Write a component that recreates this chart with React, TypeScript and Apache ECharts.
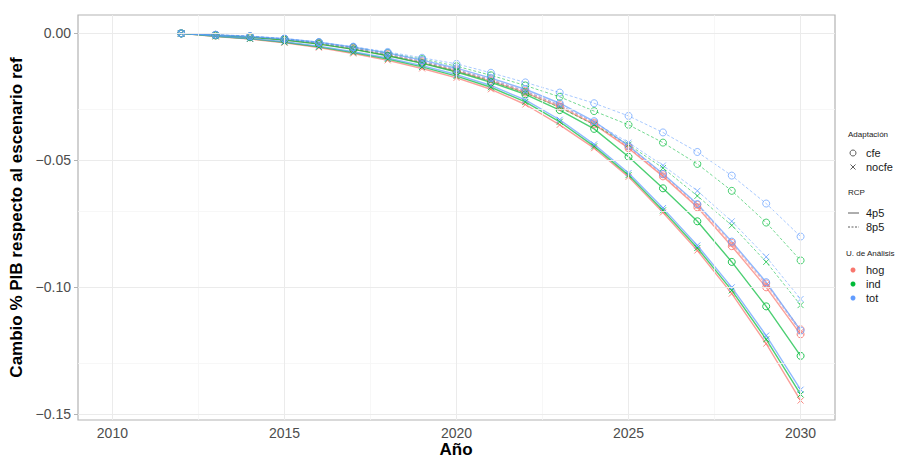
import React, { useEffect, useRef } from "react";
import * as echarts from "echarts";

const years = [2012, 2013, 2014, 2015, 2016, 2017, 2018, 2019, 2020, 2021, 2022, 2023, 2024, 2025, 2026, 2027, 2028, 2029, 2030];

// Adaptación: cfe / nocfe ; RCP: 4p5 / 8p5 ; U. de Análisis: hog / ind / tot
const cfe_4p5_hog = [0, -0.0008, -0.0015, -0.0026, -0.0041, -0.0062, -0.0087, -0.0116, -0.0149, -0.0188, -0.0233, -0.0289, -0.0358, -0.0452, -0.0563, -0.0685, -0.0838, -0.1, -0.1185];
const cfe_4p5_ind = [0, -0.0008, -0.0015, -0.0026, -0.0042, -0.0063, -0.0088, -0.0118, -0.0152, -0.0193, -0.024, -0.0302, -0.0376, -0.0486, -0.061, -0.074, -0.09, -0.1075, -0.127];
const cfe_4p5_tot = [0, -0.0006, -0.0012, -0.0021, -0.0035, -0.0054, -0.0077, -0.0105, -0.0137, -0.0176, -0.022, -0.0275, -0.0346, -0.0443, -0.0553, -0.0672, -0.082, -0.098, -0.117];
const cfe_8p5_hog = [0, -0.0006, -0.0012, -0.0022, -0.0037, -0.0057, -0.0081, -0.011, -0.0142, -0.0181, -0.0226, -0.0282, -0.0352, -0.0445, -0.0555, -0.0675, -0.0825, -0.0985, -0.1165];
const cfe_8p5_ind = [0, -0.0006, -0.0012, -0.0022, -0.0036, -0.0055, -0.0077, -0.0101, -0.0129, -0.0165, -0.0205, -0.025, -0.0306, -0.036, -0.043, -0.0514, -0.062, -0.0745, -0.0894];
const cfe_8p5_tot = [0, -0.0005, -0.001, -0.002, -0.0034, -0.0052, -0.0073, -0.0096, -0.012, -0.0155, -0.0193, -0.0233, -0.0275, -0.0325, -0.039, -0.0467, -0.056, -0.067, -0.08];
const nocfe_4p5_hog = [0, -0.0012, -0.0022, -0.0037, -0.0056, -0.0079, -0.0106, -0.0138, -0.0175, -0.022, -0.028, -0.036, -0.0452, -0.0565, -0.0705, -0.0855, -0.1025, -0.1222, -0.1446];
const nocfe_4p5_ind = [0, -0.0011, -0.0021, -0.0035, -0.0053, -0.0075, -0.0101, -0.0132, -0.0168, -0.0212, -0.027, -0.0348, -0.0445, -0.0558, -0.0697, -0.0845, -0.1012, -0.1205, -0.1422];
const nocfe_4p5_tot = [0, -0.001, -0.002, -0.0033, -0.005, -0.0072, -0.0097, -0.0127, -0.0162, -0.0205, -0.0262, -0.034, -0.0437, -0.055, -0.0688, -0.0835, -0.1, -0.119, -0.1403];
const nocfe_8p5_hog = [0, -0.0007, -0.0013, -0.0023, -0.0038, -0.0058, -0.0083, -0.0112, -0.0145, -0.0184, -0.023, -0.0286, -0.0356, -0.045, -0.056, -0.068, -0.083, -0.099, -0.1175];
const nocfe_8p5_ind = [0, -0.0007, -0.0014, -0.0024, -0.004, -0.0061, -0.0086, -0.0115, -0.0148, -0.0188, -0.0235, -0.0292, -0.036, -0.0438, -0.053, -0.064, -0.0756, -0.09, -0.107];
const nocfe_8p5_tot = [0, -0.0006, -0.0013, -0.0023, -0.0038, -0.0058, -0.0082, -0.011, -0.0143, -0.0183, -0.0228, -0.0283, -0.035, -0.043, -0.052, -0.062, -0.074, -0.088, -0.1046];

const xTicks = [2010, 2015, 2020, 2025, 2030];
const xMinor = [2012.5, 2017.5, 2022.5, 2027.5];
const yTicks = [0, -0.05, -0.1, -0.15];
const yMinor = [-0.025, -0.075, -0.125];

const unitColors: Record<string, string> = { hog: "#F8766D", ind: "#00BA38", tot: "#619CFF" };
const XMARK = "path://M0,0L10,10M10,0L0,10";

const seriesDefs = [
  { adapt: "cfe", rcp: "4p5", unit: "hog", values: cfe_4p5_hog },
  { adapt: "cfe", rcp: "8p5", unit: "hog", values: cfe_8p5_hog },
  { adapt: "nocfe", rcp: "4p5", unit: "hog", values: nocfe_4p5_hog },
  { adapt: "nocfe", rcp: "8p5", unit: "hog", values: nocfe_8p5_hog },
  { adapt: "cfe", rcp: "4p5", unit: "ind", values: cfe_4p5_ind },
  { adapt: "cfe", rcp: "8p5", unit: "ind", values: cfe_8p5_ind },
  { adapt: "nocfe", rcp: "4p5", unit: "ind", values: nocfe_4p5_ind },
  { adapt: "nocfe", rcp: "8p5", unit: "ind", values: nocfe_8p5_ind },
  { adapt: "cfe", rcp: "4p5", unit: "tot", values: cfe_4p5_tot },
  { adapt: "cfe", rcp: "8p5", unit: "tot", values: cfe_8p5_tot },
  { adapt: "nocfe", rcp: "4p5", unit: "tot", values: nocfe_4p5_tot },
  { adapt: "nocfe", rcp: "8p5", unit: "tot", values: nocfe_8p5_tot },
];

const FONT = "Liberation Sans, Arial, sans-serif";

export default function App() {
  const ref = useRef<HTMLDivElement>(null);
  useEffect(() => {
    document.body.style.margin = "0";
    if (!ref.current) return;
    const chart = echarts.init(ref.current, undefined, { renderer: "svg" });

    const gridLine = (vals: number[], axis: "xAxis" | "yAxis", color: string, width: number) =>
      vals.map((v) => ({ [axis]: v, lineStyle: { color, width, type: "solid" } }));

    const series: any[] = [
      {
        type: "line",
        data: [[2012, 0]],
        symbol: "none",
        lineStyle: { width: 0 },
        z: 0,
        silent: true,
        markLine: {
          silent: true,
          symbol: "none",
          label: { show: false },
          animation: false,
          data: [
            ...gridLine(xMinor, "xAxis", "#f5f5f5", 0.8),
            ...gridLine(yMinor, "yAxis", "#f5f5f5", 0.8),
            ...gridLine(xTicks, "xAxis", "#ebebeb", 1),
            ...gridLine(yTicks, "yAxis", "#ebebeb", 1),
          ],
        },
      },
    ];
    seriesDefs.forEach((d) => {
      const c = unitColors[d.unit];
      const solid = d.rcp === "4p5";
      series.push({
        type: "line",
        name: `${d.adapt} ${d.rcp} ${d.unit}`,
        data: years.map((y, i) => [y, d.values[i]]),
        symbol: d.adapt === "cfe" ? "circle" : XMARK,
        symbolSize: d.adapt === "cfe" ? 7 : 6,
        showAllSymbol: true,
        z: 2,
        lineStyle: {
          color: c,
          width: solid ? 1.4 : 1,
          type: solid ? "solid" : [3, 2],
          opacity: solid ? 0.7 : 0.55,
        },
        itemStyle: {
          color: "rgba(255,255,255,0)",
          borderColor: c,
          borderWidth: 1,
          opacity: solid ? 0.85 : 0.7,
        },
        emphasis: { disabled: true },
      });
    });

    const legendText = (x: number, y: number, text: string, size: number) => ({
      type: "text",
      x,
      y,
      style: { text, fontSize: size, fontFamily: FONT, fill: "#1a1a1a", verticalAlign: "middle", align: "left" },
    });

    const graphic: any[] = [
      {
        type: "text",
        x: 456,
        y: 449,
        style: {
          text: "Año",
          fontSize: 17,
          fontWeight: "bold",
          fontFamily: FONT,
          fill: "#000",
          align: "center",
          verticalAlign: "middle",
        },
      },
      legendText(848, 134, "Adaptación", 8),
      { type: "circle", shape: { cx: 853, cy: 153, r: 3 }, style: { fill: "none", stroke: "#333", lineWidth: 0.8 } },
      legendText(866, 153, "cfe", 11),
      { type: "line", shape: { x1: 850.5, y1: 164.5, x2: 855.5, y2: 169.5 }, style: { stroke: "#333", lineWidth: 0.8 } },
      { type: "line", shape: { x1: 855.5, y1: 164.5, x2: 850.5, y2: 169.5 }, style: { stroke: "#333", lineWidth: 0.8 } },
      legendText(866, 167, "nocfe", 11),
      legendText(848, 192, "RCP", 8),
      { type: "line", shape: { x1: 848, y1: 213, x2: 859, y2: 213 }, style: { stroke: "#333", lineWidth: 0.8 } },
      legendText(866, 213, "4p5", 11),
      { type: "line", shape: { x1: 848, y1: 227, x2: 859, y2: 227 }, style: { stroke: "#333", lineWidth: 0.8, lineDash: [2, 1.5] } },
      legendText(866, 227, "8p5", 11),
      legendText(846, 253, "U. de Análisis", 8),
      { type: "circle", shape: { cx: 853, cy: 270, r: 2.5 }, style: { fill: unitColors.hog } },
      legendText(866, 270, "hog", 11),
      { type: "circle", shape: { cx: 853, cy: 284, r: 2.5 }, style: { fill: unitColors.ind } },
      legendText(866, 284, "ind", 11),
      { type: "circle", shape: { cx: 853, cy: 298, r: 2.5 }, style: { fill: unitColors.tot } },
      legendText(866, 298, "tot", 11),
    ];

    chart.setOption({
      animation: false,
      backgroundColor: "#ffffff",
      grid: {
        left: 78,
        top: 15,
        right: 73,
        bottom: 40,
        show: true,
        borderColor: "#b3b3b3",
        borderWidth: 1.2,
        containLabel: false,
        outerBoundsMode: "none",
      },
      xAxis: {
        type: "value",
        min: 2009,
        max: 2031,
        axisLine: { show: false },
        splitLine: { show: false },
        axisTick: { show: true, customValues: xTicks, length: 4, lineStyle: { color: "#b3b3b3" } },
        axisLabel: {
          customValues: xTicks,
          fontSize: 14,
          color: "#4d4d4d",
          fontFamily: FONT,
          margin: 6,
          formatter: (v: number) => String(v),
        },
      },
      yAxis: {
        type: "value",
        min: -0.15225,
        max: 0.00725,
        axisLine: { show: false },
        splitLine: { show: false },
        axisTick: { show: true, customValues: yTicks, length: 4, lineStyle: { color: "#b3b3b3" } },
        axisLabel: {
          customValues: yTicks,
          fontSize: 14,
          color: "#4d4d4d",
          fontFamily: FONT,
          margin: 7,
          formatter: (v: number) => v.toFixed(2).replace("-", "\u2212"),
        },
        name: "Cambio % PIB respecto al escenario ref",
        nameLocation: "middle",
        nameGap: 45,
        nameTextStyle: { fontSize: 17, fontWeight: "bold", color: "#000", fontFamily: FONT },
      },
      graphic,
      series,
    });
    return () => chart.dispose();
  }, []);
  return <div ref={ref} style={{ width: 908, height: 460 }} />;
}
